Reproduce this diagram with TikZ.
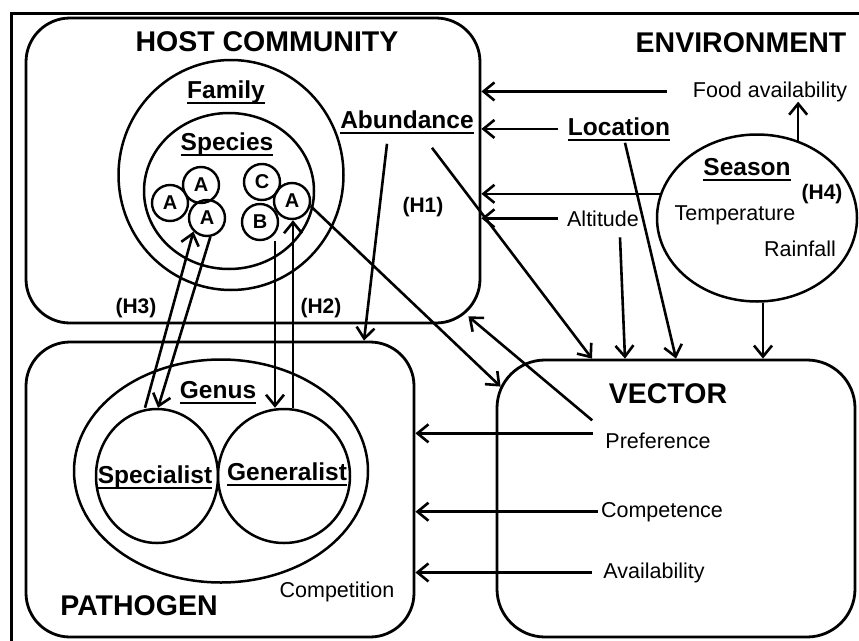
\documentclass[tikz,border=0pt]{standalone}
\usepackage{fontspec}
\setmainfont{Liberation Sans}
\usetikzlibrary{arrows.meta,shapes.geometric,positioning}
\tikzstyle{box} = [draw, line width=2.8pt, rounded corners=44pt, inner sep=0pt]
\tikzstyle{ring} = [draw, ellipse, line width=2.5pt, inner sep=0pt]
\tikzstyle{dot} = [draw, circle, line width=2.4pt, minimum size=36pt, inner sep=0pt, font=\bfseries\fontsize{20}{20}\selectfont]
\tikzstyle{link} = [draw, line width=2.6pt, -{Straight Barb[length=11pt,width=18pt]}]
\tikzstyle{title} = [inner sep=0pt, anchor=base, font=\bfseries\fontsize{28.5}{30}\selectfont]
\tikzstyle{head} = [inner sep=0pt, anchor=base, font=\bfseries\fontsize{24.5}{26}\selectfont]
\tikzstyle{plain} = [inner sep=0pt, anchor=base, font=\fontsize{21.5}{23}\selectfont]
\tikzstyle{hyp} = [inner sep=0pt, anchor=base, font=\bfseries\fontsize{21}{23}\selectfont]
\newcommand\ulab[1]{\setbox0\hbox{#1}\dp0=0pt\vtop{\box0\kern3.6pt\hrule height2pt}}

\begin{document}
\begin{tikzpicture}[x=1pt,y=-1pt]
\useasboundingbox (0,0) rectangle (859,640);
\draw[line width=3pt] (11,13) rectangle (880,660);

% boxes
\node[box, minimum width=454pt, minimum height=305pt] (host) at (253,170.5) {};
\node[box, minimum width=388pt, minimum height=295pt] (pathogen) at (220,489.5) {};
\node[box, rounded corners=48pt, minimum width=358pt, minimum height=277pt] (vector) at (676,498.5) {};

% host community
\node[title] (hosttitle) at (267,51) {HOST COMMUNITY};
\node[ring, minimum width=225pt, minimum height=230pt] (family) at (231,175) {};
\node[ring, minimum width=170pt, minimum height=156pt] (species) at (229,191) {};
\node[head] (familylab) at (226,98) {\ulab{Family}};
\node[head] (specieslab) at (227,150) {\ulab{Species}};
\node[dot] (a1) at (170,203) {A};
\node[dot] (a2) at (201,185) {A};
\node[dot] (a3) at (207,218) {A};
\node[dot] (c) at (262,182) {C};
\node[dot] (b) at (260,222) {B};
\node[dot] (a4) at (292,201) {A};
\node[head] (abundance) at (407,128) {\ulab{Abundance}};
\node[hyp] (h1) at (423,212) {(H1)};
\node[hyp] (h3) at (136,313) {(H3)};
\node[hyp] (h2) at (321,313) {(H2)};

% environment
\node[title] (envtitle) at (741,52) {ENVIRONMENT};
\node[plain] (food) at (770,97) {Food availability};
\node[head] (location) at (619,135) {\ulab{Location}};
\node[ring, minimum width=200pt, minimum height=167pt] (season) at (757,218) {};
\node[head] (seasonlab) at (747,175) {\ulab{Season}};
\node[hyp] (h4) at (822,199) {(H4)};
\node[plain] (temp) at (735,220) {Temperature};
\node[plain] (rain) at (800,256) {Rainfall};
\node[plain] (altitude) at (603,226) {Altitude};

% vector
\node[title] (vectortitle) at (668,403) {VECTOR};
\node[plain] (preference) at (658,448) {Preference};
\node[plain] (competence) at (662,517) {Competence};
\node[plain] (availability) at (654,578) {Availability};

% pathogen
\node[title] (pathtitle) at (139,615) {PATHOGEN};
\node[plain] (competition) at (337,597) {Competition};
\node[ring, minimum width=294pt, minimum height=223pt] (genus) at (221,471) {};
\node[head] (genuslab) at (218,398) {\ulab{Genus}};
\node[ring, minimum width=122pt, minimum height=134pt] (special) at (157,476) {};
\node[ring, minimum width=132pt, minimum height=134pt] (general) at (284,476) {};
\node[head] (speciallab) at (155,483) {\ulab{Specialist}};
\node[head] (generallab) at (287,480) {\ulab{Generalist}};

% environment -> host
\draw[link] ([xshift=-26pt]food.west) -- (food.west -| host.east);
\draw[link] ([xshift=-10pt]location.west) -- (location.west -| host.east);
\draw[link] (season.166) -- (season.166 -| host.east);
\draw[link] ([xshift=-9pt]altitude.west) -- (altitude.west -| host.east);
\draw[link] (season.62) -- (season.62 |- food.south);

% -> vector
\draw[link] ([shift={(25pt,-14pt)}]abundance.south) -- ([xshift=-84pt]vector.north);
\draw[link] ([shift={(17pt,-11pt)}]altitude.south) -- ([xshift=-51pt]vector.north);
\draw[link] ([shift={(6pt,-2pt)}]location.south) -- (vector.north);
\coordinate (sbot) at ([xshift=6pt]season.south);
\draw[link] (sbot) -- (sbot |- vector.north);
\draw[link] (a4.-15) -- ([shift={(5pt,-28pt)}]vector.north west);

% vector -> host, pathogen
\draw[link] ([shift={(-13pt,20pt)}]preference.west) -- ([shift={(-13pt,8pt)}]host.south east);
\coordinate (pref) at ([shift={(-12pt,7pt)}]preference.west);
\draw[link] (pref) -- (pref -| pathogen.east);
\draw[link] ([xshift=-3pt]competence.west) -- (competence.west -| pathogen.east);
\draw[link] ([xshift=-11pt]availability.west) -- (availability.west -| pathogen.east);

% host <-> pathogen
\draw[link] ([shift={(-20pt,-10pt)}]abundance.south) -- ([xshift=144pt]pathogen.north);
\draw[link] ([xshift=-12pt]special.north) -- (a3.225);
\draw[link] (a3.280) -- ([xshift=1pt]special.north);
\coordinate (gl) at ([xshift=-9pt]general.north);
\coordinate (gr) at ([xshift=9pt]general.north);
\draw[link] (gl |- b.south) -- (gl);
\draw[link] (gr) -- (gr |- a4.south);
\end{tikzpicture}
\end{document}
